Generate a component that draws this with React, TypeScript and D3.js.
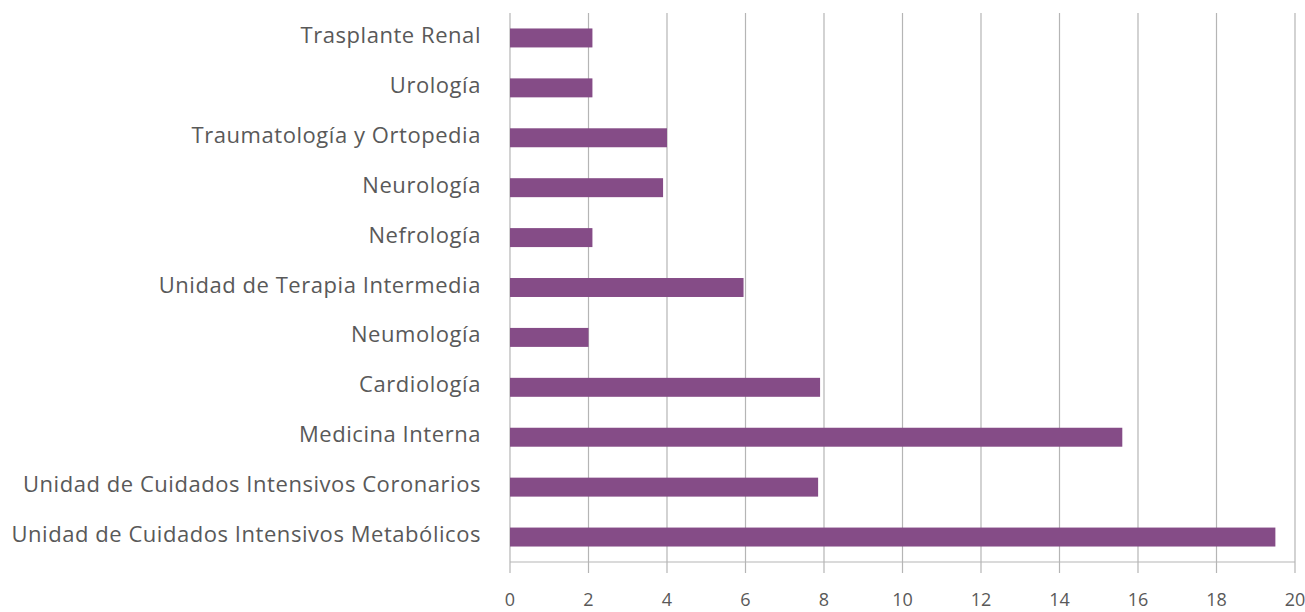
import React from "react";
import * as d3 from "d3";

const categories = [
  "Trasplante Renal",
  "Urología",
  "Traumatología y Ortopedia",
  "Neurología",
  "Nefrología",
  "Unidad de Terapia Intermedia",
  "Neumología",
  "Cardiología",
  "Medicina Interna",
  "Unidad de Cuidados Intensivos Coronarios",
  "Unidad de Cuidados Intensivos Metabólicos",
];
const values = [2.1, 2.1, 4.0, 3.9, 2.1, 5.95, 2.0, 7.9, 15.6, 7.85, 19.5];
const xTicks = [0, 2, 4, 6, 8, 10, 12, 14, 16, 18, 20];

const W = 1305;
const H = 612;
const left = 510;
const right = 1295;
const top = 13;
const bottom = 562;

export default function App() {
  const x = d3.scaleLinear().domain([0, 20]).range([left, right]);
  const y = d3
    .scaleBand<string>()
    .domain(categories)
    .range([top, bottom])
    .paddingInner(0.62)
    .paddingOuter(0.31);
  const grid = "#b5b5b5";
  const font = "'Open Sans', sans-serif";
  return (
    <svg
      width={W}
      height={H}
      style={{ position: "absolute", left: 0, top: 0, background: "#fff" }}
    >
      {xTicks.map((t) => (
        <line
          key={"g" + t}
          x1={x(t)}
          x2={x(t)}
          y1={top}
          y2={bottom + 11}
          stroke={grid}
          strokeWidth={1.2}
        />
      ))}
      <line x1={left} x2={right} y1={bottom} y2={bottom} stroke={grid} strokeWidth={1.2} />
      {categories.map((c, i) => (
        <rect
          key={c}
          x={x(0)}
          y={y(c)!}
          width={x(values[i]) - x(0)}
          height={y.bandwidth()}
          fill="#854c87"
        />
      ))}
      {categories.map((c) => (
        <text
          key={"l" + c}
          x={481}
          y={y(c)! + y.bandwidth() / 2 + 5}
          textAnchor="end"
          fontFamily={font}
          fontSize={22}
          letterSpacing={0.55}
          fill="#595959"
        >
          {c}
        </text>
      ))}
      {xTicks.map((t) => (
        <text
          key={"t" + t}
          x={x(t)}
          y={606}
          textAnchor="middle"
          fontFamily={font}
          fontSize={18}
          fill="#595959"
        >
          {t}
        </text>
      ))}
    </svg>
  );
}
